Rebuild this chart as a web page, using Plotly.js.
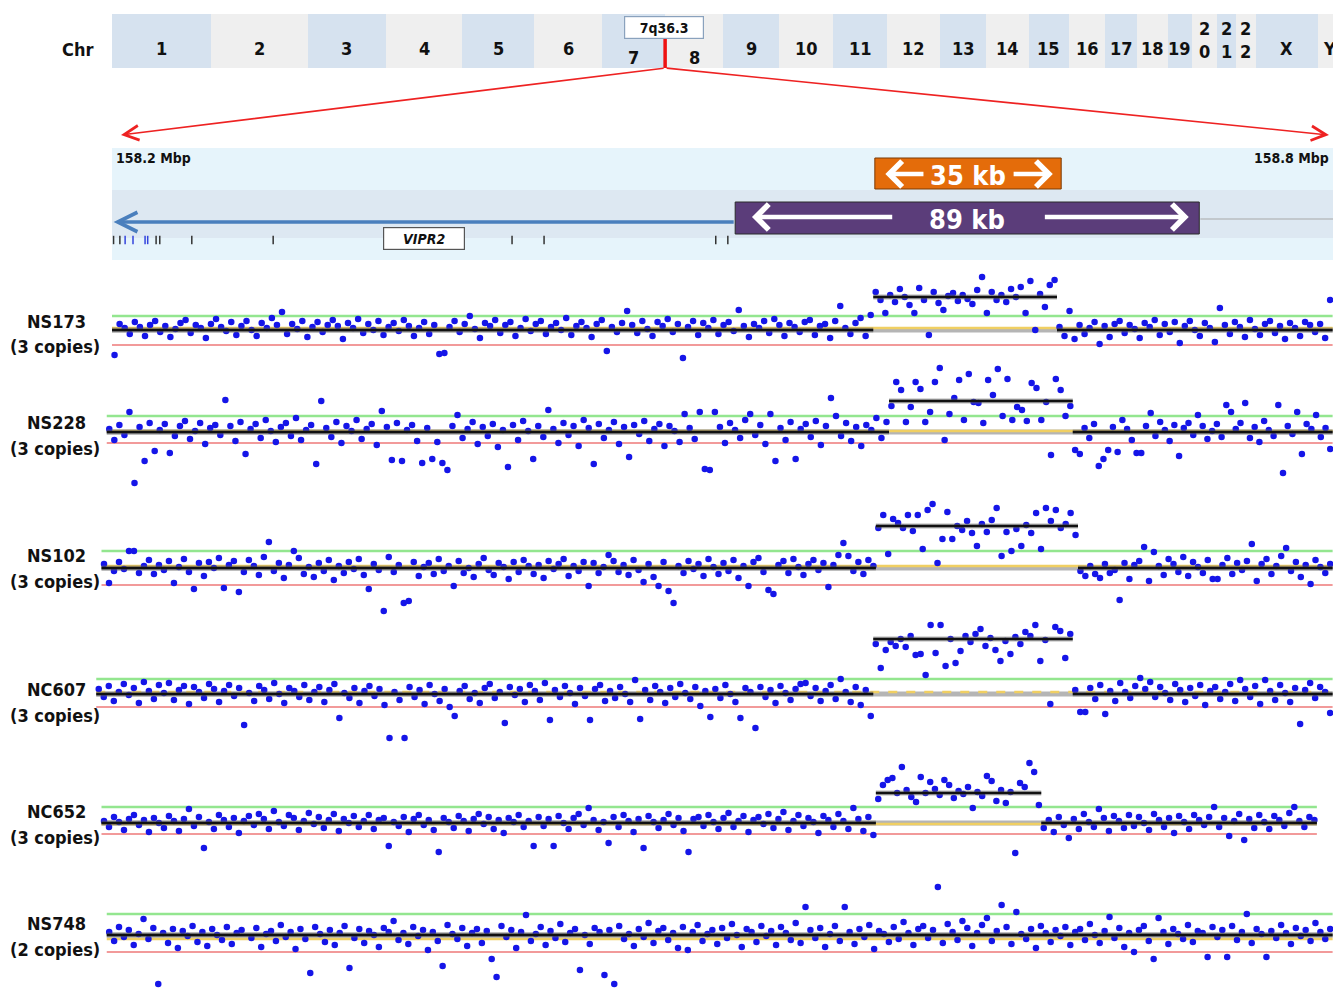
<!DOCTYPE html>
<html>
<head>
<meta charset="utf-8">
<script src="https://cdn.plot.ly/plotly-3.0.1.min.js"></script>
<style>html,body{margin:0;padding:0;background:#fff;}#chart{width:1333px;height:988px;}</style>
</head>
<body>
<div id="chart"></div>
<script>
// ---------------- DATA ----------------
const chromosomes = ['1','2','3','4','5','6','7','8','9','10','11','12','13','14','15','16','17','18','19','20','21','22','X','Y'];
const chromLengthsMb = [249,243,198,191,181,171,159,146,141,136,135,134,115,107,102,90,81,78,59,63,48,51,155,59];
const bandChrom = '7';
const bandName = '7q36.3';
const bandPosMb = 158.5;

const viewLabels = ['158.2 Mbp', '158.8 Mbp'];
const viewSpanKb = [0, 232.57];
const geneName = 'VIPR2';
const geneSpanKb = [0, 118.7];
const exonKb = [0.3, 1.5, 2.5, 4.0, 6.3, 6.8, 8.4, 9.1, 15.2, 30.7, 76.2, 82.3, 115.0, 117.3];
const downstreamLineKb = [207.3, 232.57];
const dupSmallKb = [145.3, 180.8];
const dupSmallLabel = '35 kb';
const dupLargeKb = [118.7, 207.1];
const dupLargeLabel = '89 kb';

const samples = ['NS173', 'NS228', 'NS102', 'NC607', 'NC652', 'NS748'];
const copyLabels = ['(3 copies)', '(3 copies)', '(3 copies)', '(3 copies)', '(3 copies)', '(2 copies)'];

// segment boundaries in kb (left normal | duplicated | right normal)
const NS173_bounds = [0, 145, 180, 232.5];
const NS228_bounds = [-1, 148, 183, 232.5];
const NS102_bounds = [-2, 145.5, 184, 232.5];
const NC607_bounds = [-3, 145, 183, 232.5];
const NC652_bounds = [-2, 145.5, 177, 229.5];
const NS748_bounds = [-1, 232.5];

// segment mean levels (relative log ratio units)
const NS173_levels = [0, 33, 0];
const NS228_levels = [0, 31, 0];
const NS102_levels = [0, 42, 0];
const NC607_levels = [0, 55, 0];
const NC652_levels = [0, 30, 0];
const NS748_levels = [0];

// reference lines: gain threshold, expected, loss threshold
const gainThreshold = [14, 16, 17, 15, 16, 21];
const expectedLevel = [2, 1, 2, 2, -1, -4];
const lossThreshold = [-15, -11, -17, -13, -11, -17];

// probe values (relative log ratio units)
const NS173_left = [-25,6,2,-4,8,3,-6,5,9,-2,4,-7,1,7,10,-3,5,2,-8,6,11,3,-1,8,-5,4,9,0,-6,7,2,12,5,18,-4,6,1,9,-7,3,8,-2,5,10,4,-9,7,2,11,-3,6,0,9,-5,3,7,-1,10,4,-6,2,8,-4,5,-24,-23,3,9,-2,6,14,1,-8,7,4,10,-3,5,8,-6,2,11,-1,6,9,-4,3,7,0,12,-5,4,8,2,-7,6,10,-21,3,-2,7,19,5,-3,9,1,-6,8,4,11,-2,6,-28,3,9,-5,7,2,10,-4,5,8,-1,20,4,-7,6,2,9,-3,11,5,-6,7,3,-2,8,10,-5,4,6,-8,9,24,2,-4,7,12,-6,15];
const NS173_dup = [38,30,17,35,28,41,33,25,17,42,30,-5,38,27,20,34,37,29,35,31,26,40,53,17,38,30,35,28,41,33,43,17,49,0,36,23,45,50];
const NS173_right = [3,-6,19,-9,5,-4,2,8,-14,4,-7,6,9,-3,5,1,-8,7,3,10,-5,6,-2,8,-13,4,9,0,-6,7,2,-12,22,5,-4,8,3,-7,10,1,-5,6,9,-3,4,-9,7,2,-6,8,5,-2,6,-8,30];

const NS228_left = [3,-8,7,-3,20,-51,5,-29,9,-19,2,8,-21,-4,6,11,-7,1,9,-12,4,7,-3,32,6,-9,10,-22,3,8,-6,12,1,-10,5,9,-4,14,-8,2,7,-32,31,4,-5,10,-11,6,1,12,-7,3,8,-13,21,5,-28,9,-29,2,7,-9,-31,4,-27,-10,-31,-38,6,17,-6,3,10,-12,5,-4,8,-15,2,-35,7,-8,11,1,-27,6,-5,22,3,-11,9,-3,6,-14,12,4,-32,8,-6,2,10,-12,5,-25,7,-2,11,-9,3,8,-14,6,1,-10,18,4,-7,20,-37,-38,20,5,-11,9,2,-6,12,18,-3,7,-12,18,-29,4,-8,10,-27,3,8,-5,11,-13,6,34,16,-4,9,-9,5,-14,7,2,14,-6,10];
const NS228_dup = [26,50,42,10,25,50,43,10,20,50,64,-8,18,34,52,12,58,30,29,9,52,37,63,16,53,12,25,22,11,49,44,12,30,-23,53,42,16,26];
const NS228_right = [-18,-22,4,-6,8,-34,-27,-18,5,-20,12,3,-8,-21,-21,6,19,-4,10,2,-9,7,-24,4,9,-3,17,6,-7,1,8,-5,27,20,3,9,29,-6,5,-10,11,2,-4,27,-41,6,-2,20,-22,8,3,17,-5,4,-17];

const NS102_left = [4,-15,-3,6,-1,17,17,-5,2,8,-6,3,-2,7,-15,1,9,-4,-21,5,-8,6,0,10,-20,3,7,-24,-4,8,2,-7,11,26,-3,5,-10,3,17,10,-6,1,-9,5,-3,8,-12,2,-5,6,-1,9,-7,-21,4,-2,-43,11,-4,3,-35,-33,6,-8,1,5,-6,9,-3,2,-18,7,-5,0,-9,4,10,-2,-7,5,1,-11,6,-4,8,2,-6,3,-10,7,-1,4,9,-8,2,-3,6,-18,5,-5,1,13,7,-4,3,-7,8,-2,-14,4,-9,-18,6,-23,-35,2,-5,7,-1,4,-8,9,1,-6,5,-3,8,-10,2,-18,6,10,-4,-22,-26,3,7,-5,9,1,-7,4,8,-2,5,-19,3,13,25,12,-3,6,-6,8,2];
const NS102_dup = [40,53,14,49,45,40,53,37,53,19,58,64,5,29,56,29,42,38,47,35,22,44,36,48,60,12,36,17,39,22,43,35,55,19,60,47,58,40,44,55,33];
const NS102_right = [-3,-8,2,-6,-10,4,-5,-2,-32,5,-11,3,7,21,-13,16,2,-7,9,4,-4,11,-8,6,1,-5,8,-11,-11,3,10,-6,5,-2,7,24,-13,4,9,-6,2,12,20,-3,6,-9,3,-16,8,1,-5,4];

const NC607_left = [5,-3,8,-7,2,10,-1,6,-9,12,3,-5,9,1,11,-6,4,8,-10,7,2,-4,10,5,-8,3,9,-2,6,-31,1,-7,8,4,-5,11,0,-9,6,3,-3,9,-6,2,7,-8,4,10,-24,1,-4,6,-9,3,8,-2,5,-11,-44,2,-6,-44,7,-3,4,-10,9,0,-7,5,-13,-22,3,8,-5,1,-9,6,10,-4,2,-29,7,-1,5,-8,9,3,-6,11,-26,4,-3,8,1,-10,6,-2,-26,5,9,-7,3,-4,7,0,-8,14,-25,4,-6,8,2,-9,6,-3,10,1,-5,7,-12,3,-23,5,-4,9,0,-8,-24,6,2,-34,7,-3,4,-9,8,1,-6,5,10,11,-2,6,-7,3,9,-5,15,2,-8,7,-11,4,-22];
const NC607_dup = [50,26,44,52,48,55,47,58,39,40,19,69,41,69,28,55,31,43,58,52,60,65,48,56,44,33,53,40,57,50,62,58,69,33,54,-10,67,63,36,60];
const NC607_right = [4,-18,-18,6,-5,9,-20,3,-7,11,2,-4,8,16,5,12,-3,7,1,-6,10,4,-8,6,-2,9,-11,3,7,-5,2,10,-7,14,5,-3,8,-10,14,3,-6,9,1,-8,6,-30,4,11,-4,7,2,-19];

const NC652_left = [2,-4,6,1,-7,4,8,-2,3,-9,5,0,-5,7,2,-8,4,14,-3,6,-25,1,-6,8,3,-4,5,-10,2,7,-2,9,4,-6,12,1,-3,8,5,-7,2,10,-1,6,-5,3,9,-8,4,0,7,-4,2,8,-6,3,5,-23,1,-3,6,-9,4,8,-2,3,-7,-29,5,1,-5,7,2,-8,4,9,-1,6,-6,3,-10,5,1,8,-4,2,-23,6,-3,4,-23,7,0,-6,5,9,-2,15,3,-7,1,-20,6,-4,8,2,-9,4,-25,7,1,-5,3,9,-2,5,-8,-29,4,6,-3,8,1,-6,5,10,-4,2,7,-9,3,6,-1,9,-5,4,11,-7,2,8,-3,5,1,-10,7,3,-4,9,2,-6,15,4,-8,6,-12];
const NC652_dup = [24,38,43,45,30,56,33,26,21,46,30,41,34,28,43,38,25,32,29,36,15,31,27,47,42,22,33,20,31,-30,40,36,60,51,18];
const NC652_right = [-5,3,-9,6,-2,-15,4,-6,9,1,-4,14,5,-8,7,2,-5,8,-3,6,0,-7,9,3,-4,5,-10,7,1,-6,8,3,-2,6,16,-4,5,-13,2,9,-17,4,-5,8,1,-6,7,3,-3,10,16,2,-4,6,3];

const NS748_all = [3,-6,8,-2,5,-10,1,16,-4,7,-49,2,-8,6,-13,4,-1,9,-7,3,-11,6,0,-5,8,-9,2,5,-55,-3,7,-12,1,4,-6,10,-2,3,-14,6,-4,-38,8,1,-7,5,-10,2,9,-33,-3,6,-8,4,0,-12,7,3,14,-5,2,-9,8,-1,5,-15,3,-6,-31,10,1,-4,7,-11,2,6,-8,4,-24,-42,9,-2,5,-13,3,20,-6,1,8,-10,4,-3,11,-7,2,6,-35,0,-9,7,3,-40,5,-49,9,-4,1,-11,6,-2,12,-8,4,7,-5,2,-13,8,-15,3,10,-6,1,5,-9,7,-3,11,0,-12,6,3,-7,9,-1,4,-10,8,2,-5,12,-8,28,5,-3,7,-12,1,9,-6,28,3,-9,6,-2,10,-14,4,1,-7,8,-4,13,2,-10,6,9,-3,5,48,-8,11,3,-5,14,7,-11,2,10,17,-6,4,30,8,-9,23,1,-4,6,-13,9,2,-7,5,-1,8,-10,3,6,-5,11,0,-8,4,18,-3,7,-12,2,-17,5,9,-6,-24,17,3,-9,6,1,-4,10,-7,4,2,-22,8,-2,5,-22,9,-5,3,21,-8,6,1,-22,4,-3,10,2,-9,7,-1,5,-6,12,3,-4,6];

// --------------- ASSEMBLY ----------------
const trackValues = [
  [NS173_left, NS173_dup, NS173_right],
  [NS228_left, NS228_dup, NS228_right],
  [NS102_left, NS102_dup, NS102_right],
  [NC607_left, NC607_dup, NC607_right],
  [NC652_left, NC652_dup, NC652_right],
  [NS748_all]
];
const trackBounds = [NS173_bounds, NS228_bounds, NS102_bounds, NC607_bounds, NC652_bounds, NS748_bounds];
const trackLevels = [NS173_levels, NS228_levels, NS102_levels, NC607_levels, NC652_levels, NS748_levels];

const W = 1333, H = 988;
const FONT = '"DejaVu Sans Condensed", "Liberation Sans Narrow", "Noto Sans", sans-serif';
const baselinePx = [330, 432, 568, 694, 823, 935];
const labelCenterPx = [[321, 347], [422, 448], [555, 581], [689, 715], [811, 837], [923, 949]];
const kbLeftPx = 112, pxPerKb = 5.25;
const pxPerMb = 0.3975;
const py = p => 1 - p / H;

const traces = [];
const shapes = [];
const annotations = [];
function note(o) {
  annotations.push(Object.assign({showarrow: false, xanchor: 'center', yanchor: 'middle'}, o));
}

// ideogram
const starts = [];
let acc = 0;
chromLengthsMb.forEach(l => { starts.push(acc); acc += l; });
traces.push({
  type: 'bar', orientation: 'h', xaxis: 'x2', yaxis: 'y2',
  x: chromLengthsMb, base: starts, y: chromosomes.map(() => 0.5), width: 1,
  marker: {color: chromosomes.map((c, i) => i % 2 === 0 ? '#d6e2ef' : '#efefef'), line: {width: 0}},
  hoverinfo: 'skip'
});
chromosomes.forEach((c, i) => {
  const center = starts[i] + chromLengthsMb[i] / 2;
  let txt = c, yy = 48;
  if (c === '7' || c === '8') yy = 58;
  if (c === '20' || c === '21' || c === '22') { txt = c[0] + '<br>' + c[1]; yy = 40; }
  note({xref: 'x2', yref: 'paper', x: center, y: py(yy), text: '<b>' + txt + '</b>',
    font: {family: FONT, size: 18, color: '#111'}});
});
note({xref: 'paper', yref: 'paper', x: 77 / W, y: py(49), text: '<b>Chr</b>',
  font: {family: FONT, size: 18, color: '#111'}});
const bandX = starts[chromosomes.indexOf(bandChrom)] + bandPosMb;
shapes.push({type: 'line', xref: 'x2', yref: 'y2', x0: bandX, x1: bandX, y0: 0, y1: 0.56, line: {color: '#ee1111', width: 3.5}, layer: 'above'});
note({xref: 'x2', yref: 'paper', x: bandX - 2, y: py(27), text: '<b>' + bandName + '</b>',
  bgcolor: '#ffffff', bordercolor: '#8aa2bd', borderwidth: 1.2, borderpad: 2, width: 74, height: 17,
  font: {family: FONT, size: 14, color: '#111'}});
const tailPx = 112 + bandX * pxPerMb;
[[121, 135], [1329, 135]].forEach(([hx, hy]) => {
  annotations.push({xref: 'paper', yref: 'paper', x: hx / W, y: py(hy), ax: tailPx - hx, ay: 68 - hy,
    text: '', showarrow: true, arrowhead: 5, arrowsize: 1.8, arrowwidth: 1.6, arrowcolor: '#ee2222'});
});

// zoomed gene panel
shapes.push({type: 'rect', xref: 'x', yref: 'y', x0: viewSpanKb[0], x1: viewSpanKb[1], y0: 148, y1: 260, fillcolor: '#e6f4fb', line: {width: 0}, layer: 'below'});
shapes.push({type: 'rect', xref: 'x', yref: 'y', x0: viewSpanKb[0], x1: viewSpanKb[1], y0: 190, y1: 238, fillcolor: '#dde8f2', line: {width: 0}, layer: 'below'});
note({xref: 'paper', yref: 'paper', x: 114 / W, y: py(158), xanchor: 'left', text: '<b>' + viewLabels[0] + '</b>', font: {family: FONT, size: 14, color: '#111'}});
note({xref: 'paper', yref: 'paper', x: 1252 / W, y: py(158), xanchor: 'left', text: '<b>' + viewLabels[1] + '</b>', font: {family: FONT, size: 14, color: '#111'}});
shapes.push({type: 'line', xref: 'x', yref: 'y', x0: downstreamLineKb[0], x1: downstreamLineKb[1], y0: 219, y1: 219, line: {color: '#a8a8a8', width: 1.2}});
annotations.push({xref: 'x', yref: 'y', axref: 'x', ayref: 'y', x: geneSpanKb[0] + 0.3, y: 222, ax: geneSpanKb[1], ay: 222,
  text: '', showarrow: true, arrowhead: 5, arrowsize: 1.1, arrowwidth: 3.5, arrowcolor: '#4a7fbd'});
traces.push({type: 'scatter', mode: 'markers', xaxis: 'x', yaxis: 'y', x: exonKb, y: exonKb.map(() => 240),
  marker: {symbol: 'line-ns-open', size: 6, color: exonKb.map((k, i) => (i >= 2 && i <= 5) ? '#3344dd' : '#333333'), line: {width: 1.5}},
  hoverinfo: 'skip'});
note({xref: 'x', yref: 'y', x: (geneSpanKb[0] + geneSpanKb[1]) / 2, y: 239, text: '<b><i>' + geneName + '</i></b>',
  bgcolor: '#ffffff', bordercolor: '#555', borderwidth: 1.2, width: 78, height: 19, borderpad: 1,
  font: {family: FONT, size: 14, color: '#111'}});
// 89 kb box
shapes.push({type: 'rect', xref: 'x', yref: 'y', x0: dupLargeKb[0], x1: dupLargeKb[1], y0: 202, y1: 234, fillcolor: '#5b3d7a', line: {color: '#2a2a2a', width: 1}, layer: 'above'});
const midL = (dupLargeKb[0] + dupLargeKb[1]) / 2;
note({xref: 'x', yref: 'y', x: midL, y: 220, text: '<b>' + dupLargeLabel + '</b>', font: {family: FONT, size: 27, color: '#fff'}});
annotations.push({xref: 'x', yref: 'y', axref: 'x', ayref: 'y', x: dupLargeKb[0] + 3.2, y: 217, ax: midL - 14, ay: 217, text: '', showarrow: true, arrowhead: 4, arrowsize: 1.1, arrowwidth: 4.5, arrowcolor: '#fff'});
annotations.push({xref: 'x', yref: 'y', axref: 'x', ayref: 'y', x: dupLargeKb[1] - 2.0, y: 217, ax: midL + 14.5, ay: 217, text: '', showarrow: true, arrowhead: 4, arrowsize: 1.1, arrowwidth: 4.5, arrowcolor: '#fff'});
// 35 kb box
shapes.push({type: 'rect', xref: 'x', yref: 'y', x0: dupSmallKb[0], x1: dupSmallKb[1], y0: 158, y1: 189, fillcolor: '#e46c0a', line: {color: '#7a3a05', width: 1}, layer: 'above'});
const midS = (dupSmallKb[0] + dupSmallKb[1]) / 2;
note({xref: 'x', yref: 'y', x: midS, y: 176, text: '<b>' + dupSmallLabel + '</b>', font: {family: FONT, size: 27, color: '#fff'}});
annotations.push({xref: 'x', yref: 'y', axref: 'x', ayref: 'y', x: dupSmallKb[0] + 2.0, y: 174, ax: midS - 8.2, ay: 174, text: '', showarrow: true, arrowhead: 4, arrowsize: 1.1, arrowwidth: 4.5, arrowcolor: '#fff'});
annotations.push({xref: 'x', yref: 'y', axref: 'x', ayref: 'y', x: dupSmallKb[1] - 1.6, y: 174, ax: midS + 8.4, ay: 174, text: '', showarrow: true, arrowhead: 4, arrowsize: 1.1, arrowwidth: 4.5, arrowcolor: '#fff'});

// layout axes
const layout = {
  width: W, height: H, margin: {l: 0, r: 0, t: 0, b: 0},
  paper_bgcolor: '#ffffff', plot_bgcolor: 'rgba(0,0,0,0)',
  showlegend: false, hovermode: false,
  xaxis: {domain: [0, 1], range: [(0 - kbLeftPx) / pxPerKb, (W - kbLeftPx) / pxPerKb], visible: false, fixedrange: true, anchor: 'y'},
  yaxis: {domain: [py(260), py(148)], range: [260, 148], visible: false, fixedrange: true, anchor: 'x'},
  xaxis2: {domain: [kbLeftPx / W, 1], range: [0, (W - kbLeftPx) / pxPerMb], visible: false, fixedrange: true, anchor: 'y2'},
  yaxis2: {domain: [py(68), py(14)], range: [0, 1], visible: false, fixedrange: true, anchor: 'x2'},
  bargap: 0
};

// tracks
samples.forEach((name, t) => {
  const b = baselinePx[t];
  const topPx = b - 80;
  const botPx = Math.min(b + 60, H);
  const ax = 'yaxis' + (t + 3);
  const yref = 'y' + (t + 3);
  layout[ax] = {domain: [py(botPx), py(topPx)], range: [-(botPx - b), 80], visible: false, fixedrange: true, anchor: 'x'};
  const bounds = trackBounds[t];
  const x0 = bounds[0], x1 = bounds[bounds.length - 1];
  // reference lines
  shapes.push({type: 'line', xref: 'x', yref: yref, x0: x0, x1: x1, y0: gainThreshold[t], y1: gainThreshold[t], line: {color: '#93e68f', width: 2.5}, layer: 'below'});
  shapes.push({type: 'line', xref: 'x', yref: yref, x0: x0, x1: x1, y0: lossThreshold[t], y1: lossThreshold[t], line: {color: '#f29a9a', width: 2.2}, layer: 'below'});
  shapes.push({type: 'line', xref: 'x', yref: yref, x0: x0, x1: x1, y0: 0, y1: 0, line: {color: 'rgba(120,120,120,0.55)', width: 5}, layer: 'below'});
  shapes.push({type: 'line', xref: 'x', yref: yref, x0: x0, x1: x1, y0: expectedLevel[t], y1: expectedLevel[t],
    line: {color: '#f0cf62', width: 2.5, dash: name === 'NC607' ? 'dash' : 'solid'}, layer: 'below'});
  // probes + segment means
  trackValues[t].forEach((vals, s) => {
    const dx = (bounds[s + 1] - bounds[s]) / vals.length;
    traces.push({type: 'scatter', mode: 'markers', xaxis: 'x', yaxis: yref, y: vals, x0: bounds[s] + dx / 2, dx: dx,
      marker: {size: 6.5, color: '#1515e8'}, cliponaxis: false, hoverinfo: 'skip'});
    const lvl = trackLevels[t][s];
    shapes.push({type: 'line', xref: 'x', yref: yref, x0: bounds[s], x1: bounds[s + 1], y0: lvl, y1: lvl,
      line: {color: 'rgba(110,110,110,0.5)', width: 5}, layer: 'above'});
    shapes.push({type: 'line', xref: 'x', yref: yref, x0: bounds[s], x1: bounds[s + 1], y0: lvl, y1: lvl,
      line: {color: '#111111', width: 2.4}, layer: 'above'});
  });
  // labels
  note({xref: 'paper', yref: 'paper', x: 56 / W, y: py(labelCenterPx[t][0]), text: '<b>' + name + '</b>',
    font: {family: FONT, size: 18, color: '#111'}});
  note({xref: 'paper', yref: 'paper', x: 55 / W, y: py(labelCenterPx[t][1]), text: '<b>' + copyLabels[t] + '</b>',
    font: {family: FONT, size: 18, color: '#111'}});
});

layout.shapes = shapes;
layout.annotations = annotations;
Plotly.newPlot('chart', traces, layout, {displayModeBar: false, staticPlot: true});
</script>
</body>
</html>
